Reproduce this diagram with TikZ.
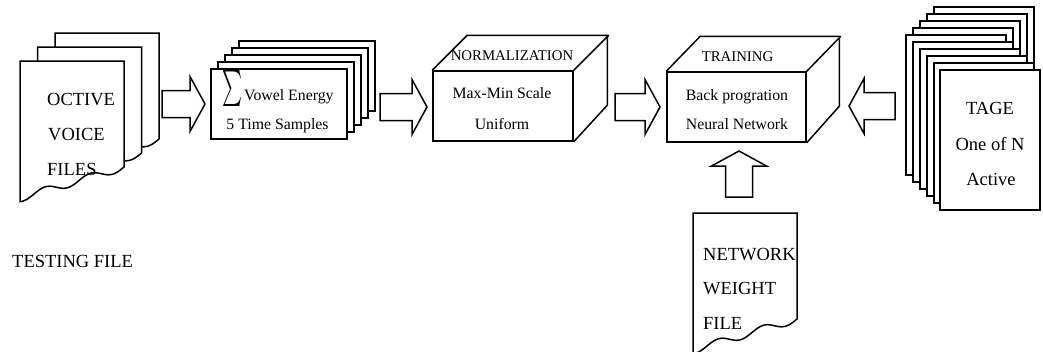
\documentclass[tikz,border=0pt]{standalone}
\usepackage{fontspec}
\setmainfont{Liberation Serif}
\usepackage{graphicx}
\usetikzlibrary{calc}

\tikzset{
  ln/.style={line width=1.5pt, line join=miter},
  page/.style={ln, fill=white},
  lbl/.style={inner sep=0pt, font=\fontsize{18.5}{20}\selectfont},
  sm/.style={inner sep=0pt, font=\fontsize{15.8}{18}\selectfont},
  toplbl/.style={inner sep=0pt, font=\fontsize{14.8}{17}\selectfont},
  % hollow block arrow of the given length, centred on its position
  pics/barrow/.style={code={
    \draw[ln, fill=white] ({-#1/2},-13.5) -- ({#1/2-15},-13.5) -- ({#1/2-15},-27.5)
      -- ({#1/2},0) -- ({#1/2-15},27.5) -- ({#1/2-15},13.5) -- ({-#1/2},13.5) -- cycle;
  }},
  % a sheet of paper with a torn, wavy lower edge
  docpage/.pic={
    \draw[page] (0,0) -- (104,0) -- (104,106)
      -- plot[domain=104:0, samples=53, smooth]
         (\x, {106+(104-\x)*0.3+3.8*sin((104-\x)*8)})
      -- cycle;
  }
}

\begin{document}
\begin{tikzpicture}[x=1pt,y=-1pt]
\useasboundingbox[fill=white] (0,0) rectangle (1043,351);

% ---- testing voice files ----
\pic at (55,33) {docpage};
\pic at (37.5,47) {docpage};
\pic at (20,61) {docpage};
\node[lbl, anchor=base west] (oct) at (47,105) {OCTIVE};
\node[lbl, anchor=base west] (voice) at (48,140) {VOICE};
\node[lbl, anchor=base west] (files) at (47,175) {FILES};
\node[lbl, anchor=base west] (test) at (12,267) {TESTING FILE};

\pic (a1) at (183.5,104) {barrow=43};

% ---- vowel energy stack ----
\foreach \k in {4,3,2,1}
  \draw[page] ({211+7*\k},{69-7*\k}) rectangle ++(136,70);
\node[draw, ln, fill=white, minimum width=136pt, minimum height=70pt,
      inner sep=0pt] (vowel) at (279,104) {};
\node[inner sep=0pt, anchor=west] (sig) at (222,88)
  {\resizebox{20pt}{27pt}{$\sum$}};
\node[sm, anchor=base west] (ve) at (244,100) {Vowel Energy};
\node[sm, anchor=base] (ts) at (277.5,129) {5 Time Samples};

\pic (a2) at (403.5,107) {barrow=47};

% ---- normalization block ----
\node[draw, ln, minimum width=140pt, minimum height=70pt, inner sep=0pt]
  (norm) at (503,106) {};
\draw[ln] (norm.north west) -- ++(35,-35) -- ++(140,0) -- ++(0,70)
  -- (norm.south east) (norm.north east) -- ++(35,-35);
\node[toplbl, anchor=base] (normt) at (512,60) {NORMALIZATION};
\node[sm, anchor=base] (mm) at (502,98) {Max-Min Scale};
\node[sm, anchor=base] (uni) at (502,129) {Uniform};

\pic (a3) at (637.5,107) {barrow=45};

% ---- training block ----
\node[draw, ln, minimum width=139pt, minimum height=70pt, inner sep=0pt]
  (train) at (736.5,107) {};
\draw[ln] (train.north west) -- ++(34,-35) -- ++(139,0) -- ++(0,70)
  -- (train.south east) (train.north east) -- ++(34,-35);
\node[toplbl, anchor=base] (traint) at (737.5,61) {TRAINING};
\node[sm, anchor=base] (bp) at (737,100) {Back progration};
\node[sm, anchor=base] (nn) at (737,129) {Neural Network};

\pic[rotate=180] (a4) at (872,106) {barrow=46};
\pic[rotate=90] (a5) at (739,174) {barrow=46};

% ---- network weight file ----
\pic at (693,213) {docpage};
\node[lbl, anchor=base west] (nw) at (703,260) {NETWORK};
\node[lbl, anchor=base west] (wt) at (703,294) {WEIGHT};
\node[lbl, anchor=base west] (wf) at (703,329) {FILE};

% ---- target stack ----
\foreach \px/\py in {934/7,927/14,920/21,913/28,906/35,913/42,920/49,927/56,934/63}
  \draw[page] (\px,\py) rectangle ++(100,140);
\node[draw, ln, fill=white, minimum width=100pt, minimum height=140pt,
      inner sep=0pt] (tage) at (990,140) {};
\node[lbl, anchor=base] (tg) at (990,114) {TAGE};
\node[lbl, anchor=base] (one) at (990,150) {One of N};
\node[lbl, anchor=base] (act) at (991,185) {Active};
\end{tikzpicture}
\end{document}
